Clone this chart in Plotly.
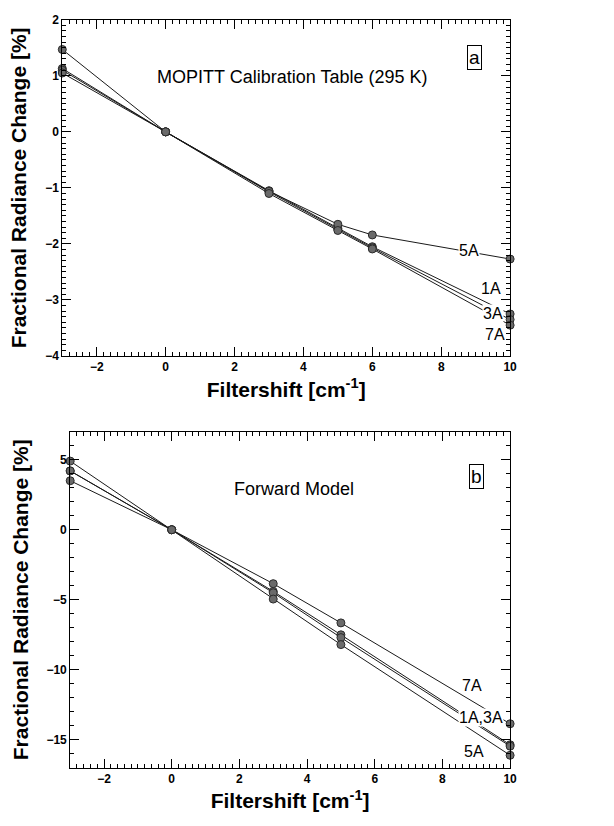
import plotly.graph_objects as go

# Filter shift positions [cm^-1]
shift_a = [-3, 0, 3, 5, 6, 10]
shift_b = [-3, 0, 3, 5, 10]

# Panel a: MOPITT calibration table (295 K), fractional radiance change [%]
cal_1A = [1.13, 0.0, -1.05, -1.72, -2.05, -3.25]
cal_3A = [1.10, 0.0, -1.07, -1.74, -2.07, -3.35]
cal_5A = [1.47, 0.0, -1.06, -1.65, -1.84, -2.27]
cal_7A = [1.05, 0.0, -1.10, -1.76, -2.09, -3.45]

# Panel b: forward model, fractional radiance change [%]
fwd_1A = [4.2, 0.0, -4.40, -7.50, -15.35]
fwd_3A = [4.2, 0.0, -4.50, -7.70, -15.45]
fwd_5A = [4.9, 0.0, -4.95, -8.20, -16.10]
fwd_7A = [3.5, 0.0, -3.85, -6.65, -13.85]

FONT = "Liberation Sans, Arial, Helvetica, sans-serif"
marker = dict(size=8, color="#6a6a6a", line=dict(color="#2a2a2a", width=1))
line = dict(color="#1a1a1a", width=1)

fig = go.Figure()
for ys in (cal_1A, cal_3A, cal_5A, cal_7A):
    fig.add_trace(go.Scatter(x=shift_a, y=ys, mode="lines+markers", marker=marker,
                             line=line, cliponaxis=False, showlegend=False,
                             xaxis="x", yaxis="y"))
for ys in (fwd_1A, fwd_3A, fwd_5A, fwd_7A):
    fig.add_trace(go.Scatter(x=shift_b, y=ys, mode="lines+markers", marker=marker,
                             line=line, cliponaxis=False, showlegend=False,
                             xaxis="x2", yaxis="y2"))

W, H = 614, 826


def xdom(left, right):
    return [left / W, right / W]


def ydom(top, bottom):
    return [1 - bottom / H, 1 - top / H]


common = dict(
    showgrid=False, zeroline=False, showline=True, linecolor="black", linewidth=1,
    mirror="allticks", ticks="inside", ticklen=9, tickwidth=1, tickcolor="black",
    tickfont=dict(family=FONT, size=12, color="black", weight="bold"),
)
xtitle = dict(text="Filtershift [cm<sup>-1</sup>]",
              font=dict(family=FONT, size=21, color="black", weight="bold"), standoff=8)
ytitle = dict(text="Fractional Radiance Change [%]",
              font=dict(family=FONT, size=21, color="black", weight="bold"), standoff=12)

fig.update_layout(
    width=W, height=H, margin=dict(l=0, r=0, t=0, b=0),
    paper_bgcolor="white", plot_bgcolor="white",
    xaxis=dict(domain=xdom(63, 516), range=[-3, 10], dtick=2, tick0=0, anchor="y",
               minor=dict(dtick=0.2, ticklen=4, ticks="inside", tickcolor="black"),
               title=xtitle, **common),
    yaxis=dict(domain=ydom(13, 355), range=[-4, 2], dtick=1, anchor="x",
               minor=dict(dtick=0.1, ticklen=4, ticks="inside", tickcolor="black"),
               title=ytitle, **common),
    xaxis2=dict(domain=xdom(71, 516), range=[-3, 10], dtick=2, tick0=0, anchor="y2",
                minor=dict(dtick=0.2, ticklen=4, ticks="inside", tickcolor="black"),
                title=xtitle, **common),
    yaxis2=dict(domain=ydom(432, 774), range=[-17, 7], dtick=5, anchor="x2",
                minor=dict(dtick=1, ticklen=4, ticks="inside", tickcolor="black"),
                title=ytitle, **common),
)

lab = dict(family=FONT, size=16, color="black")
big = dict(family=FONT, size=18, color="black")
ann = [
    # panel a
    dict(x=3.66, y=0.97, xref="x", yref="y", text="MOPITT Calibration Table (295 K)",
         showarrow=False, font=big),
    dict(x=8.97, y=1.32, xref="x", yref="y", text="a", showarrow=False,
         font=dict(family=FONT, size=19, color="black"), bordercolor="black",
         borderwidth=1, borderpad=1, bgcolor="white"),
    dict(x=8.82, y=-2.12, xref="x", yref="y", text="5A", showarrow=False, font=lab,
         bgcolor="white", borderpad=0),
    dict(x=9.45, y=-2.80, xref="x", yref="y", text="1A", showarrow=False, font=lab),
    dict(x=9.50, y=-3.25, xref="x", yref="y", text="3A", showarrow=False, font=lab,
         bgcolor="white", borderpad=0),
    dict(x=9.55, y=-3.62, xref="x", yref="y", text="7A", showarrow=False, font=lab),
    # panel b
    dict(x=3.62, y=2.93, xref="x2", yref="y2", text="Forward Model",
         showarrow=False, font=big),
    dict(x=9.0, y=3.77, xref="x2", yref="y2", text="b", showarrow=False,
         font=dict(family=FONT, size=19, color="black"), bordercolor="black",
         borderwidth=1, borderpad=1, bgcolor="white"),
    dict(x=8.87, y=-11.1, xref="x2", yref="y2", text="7A", showarrow=False, font=lab),
    dict(x=9.13, y=-13.4, xref="x2", yref="y2", text="1A,3A", showarrow=False, font=lab,
         bgcolor="white", borderpad=0),
    dict(x=8.93, y=-15.85, xref="x2", yref="y2", text="5A", showarrow=False, font=lab),
]
fig.update_layout(annotations=ann)

fig.write_html("out.html")
